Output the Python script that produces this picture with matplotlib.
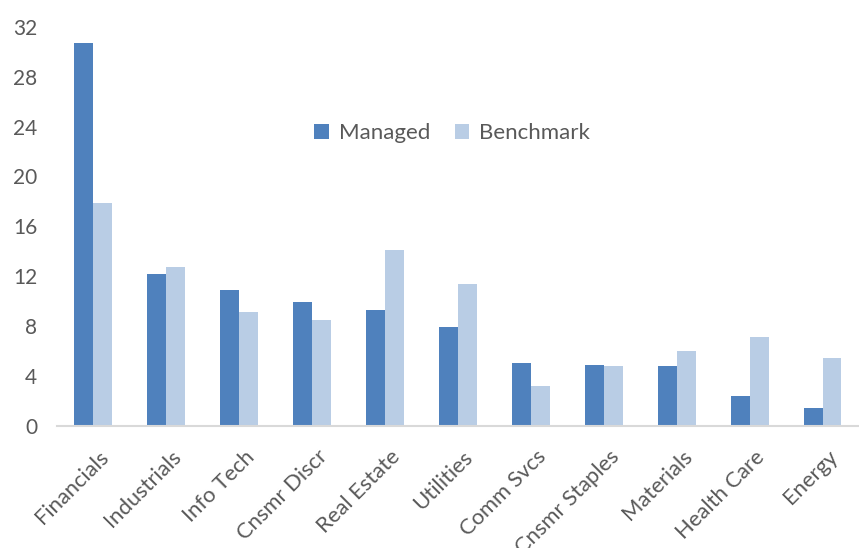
import numpy as np
import matplotlib
matplotlib.use("Agg")
import matplotlib.pyplot as plt
from matplotlib.transforms import ScaledTranslation

plt.rcParams['font.family'] = ['Lato', 'DejaVu Sans']

sectors = ["Financials", "Industrials", "Info Tech", "Cnsmr Discr", "Real Estate",
           "Utilities", "Comm Svcs", "Cnsmr Staples", "Materials", "Health Care", "Energy"]
managed = [30.7, 12.2, 10.9, 9.9, 9.3, 7.9, 5.0, 4.9, 4.8, 2.4, 1.4]
benchmark = [17.9, 12.7, 9.1, 8.5, 14.1, 11.4, 3.2, 4.8, 6.0, 7.1, 5.4]
yticks = [0, 4, 8, 12, 16, 20, 24, 28, 32]

dark = "#4F81BD"
light = "#B9CDE5"
grey = "#595959"

fig = plt.figure(figsize=(8.59, 5.48), dpi=100)
ax = fig.add_axes([0.066, 0.223, 0.934, 0.728])

x = np.arange(len(sectors))
w = 0.26
ax.bar(x - w / 2, managed, width=w, color=dark, label="Managed")
ax.bar(x + w / 2, benchmark, width=w, color=light, label="Benchmark")

ax.set_xlim(-0.5, len(sectors) - 0.5)
ax.set_ylim(0, 32)
ax.set_yticks(yticks)
ax.tick_params(axis='y', length=0, labelsize=15, labelcolor=grey, pad=14)
ax.tick_params(axis='x', length=0, labelsize=15.8, labelcolor=grey, pad=15)
ax.set_xticks(x)
ax.set_xticklabels(sectors, rotation=45, ha='right', rotation_mode='anchor')
# nudge the rotated labels a little to the right, like the original
shift = ScaledTranslation(5 / 100, 0, fig.dpi_scale_trans)
for lbl in ax.get_xticklabels():
    lbl.set_transform(lbl.get_transform() + shift)

for s in ['top', 'right', 'left']:
    ax.spines[s].set_visible(False)
ax.spines['bottom'].set_color("#D9D9D9")
ax.spines['bottom'].set_linewidth(1.5)

ax.legend(loc='center', bbox_to_anchor=(0.493, 0.733), ncol=2, frameon=False,
          fontsize=16, labelcolor=grey, handlelength=0.65, handleheight=0.65,
          handletextpad=0.45, columnspacing=1.1)

fig.savefig("out.png", dpi=100)
